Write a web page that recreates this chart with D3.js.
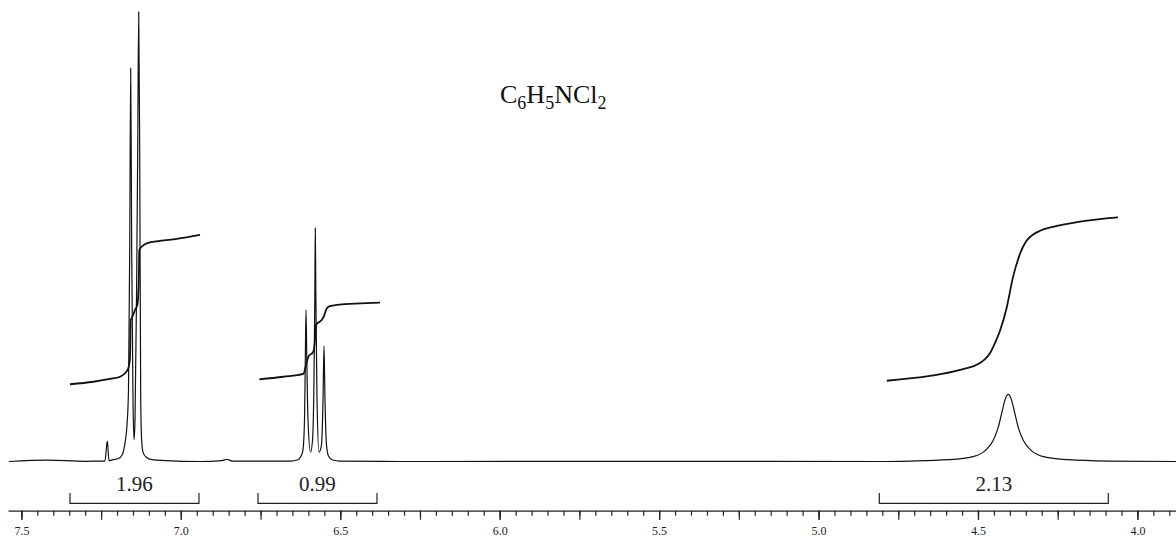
<!DOCTYPE html>
<html>
<head>
<meta charset="utf-8">
<script src="https://cdn.jsdelivr.net/npm/d3@7/dist/d3.min.js"></script>
<style>
  body { margin: 0; background: #fff; }
  svg { display: block; font-family: "Liberation Serif", "Times New Roman", serif; }
</style>
</head>
<body>
<svg id="chart" width="1176" height="538"></svg>
<script>
// chemical shift (ppm) labels on the axis
const ppmTicks = [7.5, 7.0, 6.5, 6.0, 5.5, 5.0, 4.5, 4.0];

// 1H spectrum: [ppm, relative intensity]
const spectrum = [
  [7.539, 0], [7.417, 0.3], [7.300, 0.05], [7.2535, 0.1], [7.238, 0.1],
  [7.2306, 4.6], [7.2253, 0.2], [7.2127, 0.4], [7.197, 0.6], [7.1845, 1.4],
  [7.1751, 4.1], [7.1688, 8.1], [7.1641, 15.9], [7.1603, 47], [7.1572, 87.4],
  [7.1541, 47], [7.150, 13.7], [7.1469, 4.8], [7.1437, 9.2], [7.139, 35.9],
  [7.1352, 69.2], [7.1321, 99.9], [7.129, 69.2], [7.1258, 13.7], [7.1227, 4.5],
  [7.1186, 2.1], [7.1092, 1.0], [7.0904, 0.4], [7.0496, 0.2], [6.9399, 0],
  [6.8709, 0.2], [6.8552, 0.5], [6.8395, 0.1], [6.6576, 0.1], [6.6325, 0.4],
  [6.6231, 1.2], [6.6169, 2.6], [6.6121, 9.2], [6.6096, 22.6], [6.6074, 33.7],
  [6.6049, 22.6], [6.6012, 9.2], [6.5933, 2.1], [6.5871, 4.6], [6.5824, 18.1],
  [6.5798, 35.9], [6.5783, 51.9], [6.5764, 35.9], [6.5729, 13.7], [6.5667, 2.1],
  [6.5588, 3.7], [6.5541, 13.7], [6.551, 25.7], [6.5479, 13.7], [6.5432, 3.7],
  [6.5369, 1.2], [6.5259, 0.4], [6.5008, 0.1], [6.3126, 0], [5.6854, 0.05],
  [4.8073, 0], [4.7132, 0.1], [4.5941, 0.4], [4.5157, 1.1], [4.4749, 2.6],
  [4.4529, 4.6], [4.4373, 7.4], [4.4247, 11.0], [4.4153, 13.7], [4.405, 14.9],
  [4.3949, 13.7], [4.3855, 11.0], [4.373, 7.4], [4.3573, 4.6], [4.3353, 2.6],
  [4.2946, 1.1], [4.2177, 0.4], [4.0923, 0.1], [3.879, 0]
];

// integral traces: [ppm, running integral]
const integralA = [
  [7.3476, 1.004], [7.2745, 1.037], [7.2221, 1.073], [7.1908, 1.102], [7.1751, 1.147],
  [7.1647, 1.212], [7.1594, 1.346], [7.1572, 1.84], [7.1541, 1.862], [7.1437, 1.97],
  [7.1365, 2.035], [7.1321, 2.295], [7.1302, 2.75], [7.1227, 2.792], [7.107, 2.837],
  [7.0653, 2.867], [7.0129, 2.893], [6.9399, 2.945]
];
const integralB = [
  [6.7539, 1.069], [6.6786, 1.102], [6.6159, 1.138], [6.6074, 1.255], [6.6002, 1.362],
  [6.5845, 1.427], [6.5792, 1.58], [6.5761, 1.775], [6.5582, 1.84], [6.551, 1.89],
  [6.5425, 1.99], [6.5322, 2.02], [6.5112, 2.035], [6.3754, 2.065]
];
const integralC = [
  [4.786, 1.05], [4.651, 1.112], [4.556, 1.19], [4.494, 1.281], [4.478, 1.33],
  [4.462, 1.41], [4.4467, 1.54], [4.431, 1.70], [4.410, 2.0], [4.390, 2.40],
  [4.3683, 2.70], [4.3495, 2.86], [4.3306, 2.94], [4.3055, 3.0], [4.265, 3.05],
  [4.180, 3.12], [4.061, 3.175]
];

// integration ranges and their values
const integralRanges = [[7.3476, 6.943], [6.758, 6.3848], [4.8095, 4.0913]];
const integralValues = ["1.96", "0.99", "2.13"];

// molecular formula, [text, isSubscript]
const formulaParts = [["C", false], ["6", true], ["H", false], ["5", true], ["NCl", false], ["2", true]];

const width = 1176, height = 538;
const baselineY = 461.5, axisY = 510.7;

const svg = d3.select("#chart");

const x = d3.scaleLinear()
    .domain([7.542, 3.879])
    .range([8, width]);

const y = d3.scaleLinear()
    .domain([0, 100])
    .range([baselineY, 11.5]);

const yInt = d3.scaleLinear()
    .domain([0, 6])
    .range([baselineY, 0]);

// spectrum trace
svg.append("path")
    .datum(spectrum)
    .attr("fill", "none")
    .attr("stroke", "#111")
    .attr("stroke-width", 1.2)
    .attr("stroke-linejoin", "round")
    .attr("d", d3.line()
        .x(d => x(d[0]))
        .y(d => y(d[1]))
        .curve(d3.curveMonotoneX));

// integral curves
const intLine = d3.line()
    .x(d => x(d[0]))
    .y(d => yInt(d[1]))
    .curve(d3.curveMonotoneX);

svg.append("g")
    .selectAll("path")
    .data([integralA, integralB, integralC])
    .join("path")
    .attr("fill", "none")
    .attr("stroke", "#111")
    .attr("stroke-width", 1.8)
    .attr("d", intLine);

// integration brackets and values
const bracketTop = 493, bracketBottom = 503.3;
const brackets = svg.append("g")
    .selectAll("g")
    .data(integralRanges.map((r, i) => ({ from: r[0], to: r[1], label: integralValues[i] })))
    .join("g");

brackets.append("path")
    .attr("fill", "none")
    .attr("stroke", "#222")
    .attr("stroke-width", 1.2)
    .attr("d", d => `M${x(d.from)},${bracketTop}V${bracketBottom}H${x(d.to)}V${bracketTop}`);

brackets.append("text")
    .attr("x", d => (x(d.from) + x(d.to)) / 2)
    .attr("y", 491)
    .attr("text-anchor", "middle")
    .attr("font-size", "21px")
    .attr("fill", "#222")
    .text(d => d.label);

// ppm axis: minor every 0.05, major every 0.25, labels every 0.5
const minorTicks = d3.range(78, 151).map(v => v / 20);
const majorTicks = d3.range(16, 31).map(v => v / 4);

svg.append("g")
    .attr("transform", `translate(0,${axisY})`)
    .call(d3.axisBottom(x).tickValues(minorTicks).tickSize(5).tickSizeOuter(0).tickFormat(""))
    .call(g => g.select(".domain").attr("stroke", "#222").attr("stroke-width", 1.2));

svg.append("g")
    .attr("transform", `translate(0,${axisY})`)
    .call(d3.axisBottom(x).tickValues(majorTicks).tickSize(9).tickSizeOuter(0).tickFormat(""))
    .call(g => g.select(".domain").remove());

svg.append("g")
    .attr("transform", `translate(0,${axisY})`)
    .call(d3.axisBottom(x).tickValues(ppmTicks).tickSize(9).tickPadding(7).tickFormat(d3.format(".1f")))
    .call(g => g.select(".domain").remove())
    .call(g => g.selectAll(".tick text")
        .attr("font-family", "Liberation Serif, serif")
        .attr("font-size", "12px")
        .attr("fill", "#222"));

svg.selectAll(".tick line").attr("stroke", "#222").attr("stroke-width", 1.2);

// formula label
const title = svg.append("text")
    .attr("x", 500)
    .attr("y", 103)
    .attr("font-size", "26px")
    .attr("fill", "#111");

title.selectAll("tspan")
    .data(formulaParts)
    .join("tspan")
    .attr("font-size", d => d[1] ? "18px" : null)
    .attr("dy", (d, i) => {
        const prev = i > 0 && formulaParts[i - 1][1];
        if (d[1] && !prev) return 6;
        if (!d[1] && prev) return -6;
        return 0;
    })
    .text(d => d[0]);
</script>
</body>
</html>
